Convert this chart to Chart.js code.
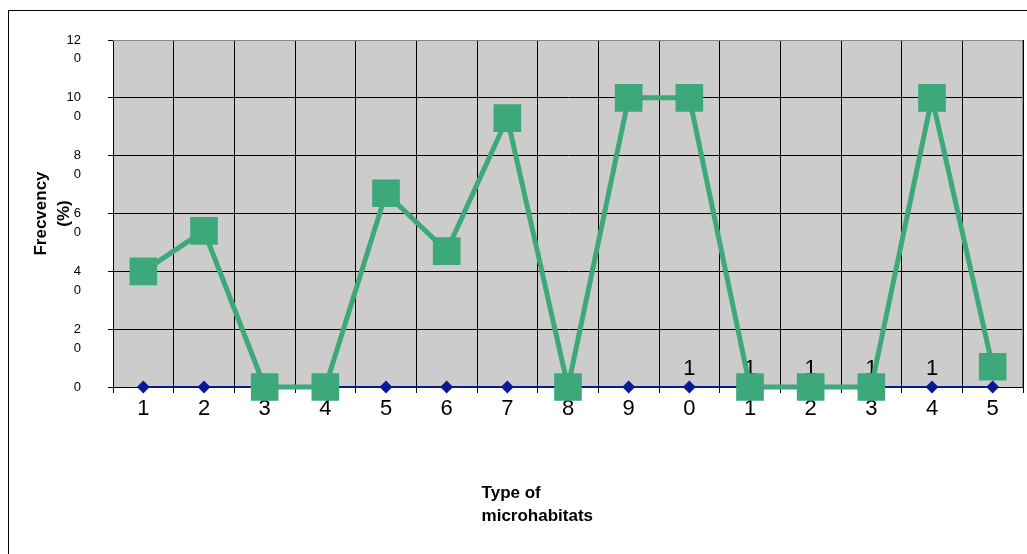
<!DOCTYPE html>
<html>
<head>
<meta charset="utf-8">
<script src="https://cdn.jsdelivr.net/npm/chart.js@4.4.0/dist/chart.umd.min.js"></script>
<style>
  html, body { margin: 0; padding: 0; background: #fff; overflow: hidden; }
  #wrap { position: relative; width: 1027px; height: 554px; }
  #frame {
    position: absolute; left: 8px; top: 10px; width: 1100px; height: 600px;
    border-left: 1px solid #000; border-top: 1px solid #000;
  }
  canvas { position: absolute; left: 0; top: 0; }
</style>
</head>
<body>
<div id="wrap">
  <div id="frame"></div>
  <canvas id="chart" width="1027" height="554"></canvas>
</div>
<script>
const categories = ["1", "2", "3", "4", "5", "6", "7", "8", "9", "10", "11", "12", "13", "14", "15"];
const frequencyValues = [40, 54, 0, 0, 67, 47, 93, 0, 100, 100, 0, 0, 0, 100, 7];
const baselineValues = [0, 0, 0, 0, 0, 0, 0, 0, 0, 0, 0, 0, 0, 0, 0];
const yTitle = ["Frecvency", "(%)"];
const xTitle = ["Type of", "microhabitats"];

const FONT = "Arial, 'Liberation Sans', sans-serif";

// grey plot background + border
const plotBackground = {
  id: "plotBackground",
  beforeDraw(chart) {
    const { ctx, chartArea: a } = chart;
    ctx.save();
    ctx.fillStyle = "#cccccc";
    ctx.fillRect(a.left, a.top, a.right - a.left, a.bottom - a.top);
    ctx.restore();
  },
  afterDatasetsDraw(chart) {
    const { ctx, chartArea: a } = chart;
    ctx.save();
    ctx.strokeStyle = "#8c8c8c";
    ctx.lineWidth = 1;
    ctx.beginPath();
    ctx.moveTo(a.left, a.top + 0.5);
    ctx.lineTo(a.right - 0.5, a.top + 0.5);
    ctx.lineTo(a.right - 0.5, a.bottom);
    ctx.stroke();
    ctx.restore();
  },
};

// x axis title, left aligned lines like the original
const xTitlePlugin = {
  id: "xTitlePlugin",
  afterDraw(chart) {
    const { ctx, chartArea: a } = chart;
    ctx.save();
    ctx.font = "bold 17px " + FONT;
    ctx.fillStyle = "#000";
    ctx.textAlign = "left";
    ctx.textBaseline = "middle";
    const x = a.left + (a.right - a.left) * 0.405;
    xTitle.forEach((line, i) => ctx.fillText(line, x, 493 + i * 23));
    ctx.restore();
  },
};

new Chart(document.getElementById("chart"), {
  type: "line",
  data: {
    labels: categories,
    datasets: [
      {
        label: "Frecvency",
        data: frequencyValues,
        borderColor: "#3da87a",
        backgroundColor: "#3da87a",
        borderWidth: 5,
        pointStyle: "rect",
        pointRadius: 16,
        pointHoverRadius: 16,
        tension: 0,
      },
      {
        label: "Baseline",
        data: baselineValues,
        borderColor: "#0a1a96",
        backgroundColor: "#0a1a96",
        borderWidth: 2,
        pointStyle: "rectRot",
        pointRadius: 5,
        pointHoverRadius: 5,
        tension: 0,
      },
    ],
  },
  options: {
    responsive: false,
    animation: false,
    events: [],
    clip: false,
    layout: { autoPadding: false, padding: { top: 40, right: 4, left: 0, bottom: 0 } },
    plugins: {
      legend: { display: false },
      tooltip: { enabled: false },
    },
    scales: {
      x: {
        offset: true,
        grid: {
          offset: true,
          color: "#000",
          lineWidth: 1,
          drawTicks: true,
          tickLength: 6,
          tickColor: "#000",
        },
        border: { color: "#000" },
        ticks: {
          autoSkip: false,
          maxRotation: 0,
          mirror: true,
          color: "#000",
          padding: -2,
          font: { family: FONT, size: 22, lineHeight: 1.82 },
          callback(value, index) {
            const label = categories[index];
            return label.length > 1 ? label.split("") : ["", label];
          },
        },
        afterFit(scale) {
          scale.height = 167;
          scale.paddingLeft = 0;
          scale.paddingRight = 0;
        },
      },
      y: {
        min: 0,
        max: 120,
        grid: { color: "#000", lineWidth: 1, tickLength: 5, tickColor: "#000" },
        border: { color: "#000" },
        ticks: {
          stepSize: 20,
          autoSkip: false,
          color: "#000",
          padding: 27,
          font: { family: FONT, size: 13, lineHeight: 1.45 },
          callback(value) {
            const s = String(value);
            return s.length > 1 ? ["", s.slice(0, -1), s.slice(-1)] : s;
          },
        },
        title: {
          display: true,
          text: yTitle,
          color: "#000",
          padding: { top: 29.5, bottom: 0 },
          font: { family: FONT, size: 17, weight: "bold", lineHeight: 1.35 },
        },
        afterFit(scale) {
          scale.width = 113;
          scale.paddingTop = 0;
          scale.paddingBottom = 0;
        },
      },
    },
  },
  plugins: [plotBackground, xTitlePlugin],
});
</script>
</body>
</html>
